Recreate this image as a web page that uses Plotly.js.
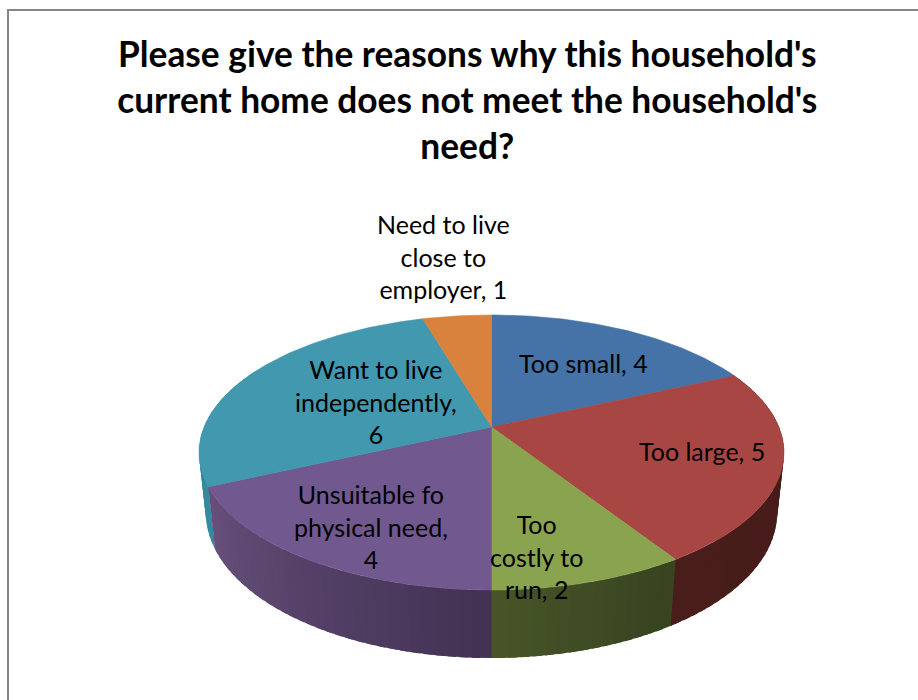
<!DOCTYPE html>
<html>
<head>
<meta charset="utf-8">
<script src="https://cdn.plot.ly/plotly-3.0.1.min.js"></script>
<style>html,body{margin:0;padding:0;background:#fff}#chart{width:918px;height:700px}</style>
</head>
<body>
<div id="chart"></div>
<script>
// Survey responses, clockwise from twelve o'clock
const reasons = ["Too small", "Too large", "Too costly to run", "Unsuitable fo physical need", "Want to live independently", "Need to live close to employer"];
const counts = [4, 5, 2, 4, 6, 1];
const topColors = ["#4572A7", "#A84644", "#89A34E", "#71588F", "#4198AF", "#D8823D"];
// Wall colour at the start and at the end of each slice's arc
const wallStart = ["#2f4d72", "#451b19", "#384320", "#433254", "#348a9e", "#9a5c2a"];
const wallEnd = ["#2f4d72", "#481d1a", "#475628", "#68517d", "#2f7d90", "#9a5c2a"];
const labelLines = [
  ["Too small, 4"],
  ["Too large, 5"],
  ["Too", "costly to", "run, 2"],
  ["Unsuitable fo", "physical need,", "4"],
  ["Want to live", "independently,", "6"],
  ["Need to live", "close to", "employer, 1"]
];
const labelAnchors = [[583, 363], [702, 451], [536, 556], [371, 526], [376, 401], [443, 256]];
const titleLines = ["Please give the reasons why this household's", "current home does not meet the household's", "need?"];

// Perspective camera for the tilted disc: u runs right, v towards the viewer, z down the wall
const cam = {cx: 491.5, cy: 427, a: 287.4, b: 132.8, depth: 60.7, k: 0.1855, e: 0.023};
function project(theta, radius, z) {
  const u = radius * Math.sin(theta), v = -radius * Math.cos(theta);
  const w = 1 - cam.k * v + cam.e * z;
  return [cam.cx + cam.a * u / w, cam.cy + (cam.b * v + cam.depth * z) / w];
}
function hexToRgb(h) {
  return [1, 3, 5].map(i => parseInt(h.slice(i, i + 2), 16));
}
function mix(c0, c1, t) {
  const a = hexToRgb(c0), b = hexToRgb(c1);
  return "rgb(" + a.map((v, i) => Math.round(v + (b[i] - v) * t)).join(",") + ")";
}
function poly(points, color, name, edgeWidth) {
  return {
    type: "scatter", mode: "lines", fill: "toself", fillcolor: color,
    x: points.map(p => p[0]), y: points.map(p => p[1]),
    line: {color: color, width: edgeWidth}, name: name, hoverinfo: "name", showlegend: false
  };
}

const total = counts.reduce((s, c) => s + c, 0);
const edges = [0];
counts.forEach(c => edges.push(edges[edges.length - 1] + c / total * 2 * Math.PI));

const walls = [], tops = [];
counts.forEach((c, i) => {
  const t0 = edges[i], t1 = edges[i + 1];
  const strips = Math.max(2, Math.round(c * 8));
  const step = (t1 - t0) / strips;
  for (let s = 0; s < strips; s++) {
    // Each strip runs a little under both neighbours so no hairlines show between them
    const a0 = t0 + step * s - 0.004;
    const a1 = Math.min(t1, t0 + step * (s + 1.6));
    // Only the near half of the wall ever shows
    if (Math.cos(t0 + step * (s + 0.5)) > 0.45) continue;
    const quad = [];
    for (let q = 0; q <= 4; q++) quad.push(project(a0 + (a1 - a0) * q / 4, 1, 0));
    for (let q = 4; q >= 0; q--) quad.push(project(a0 + (a1 - a0) * q / 4, 1, 1));
    quad.push(quad[0]);
    walls.push(poly(quad, mix(wallStart[i], wallEnd[i], (s + 0.5) / strips), reasons[i], 0));
  }
  const face = [project(0, 0, 0)];
  const n = Math.max(12, c * 16);
  for (let q = 0; q <= n; q++) face.push(project(t0 + (t1 - t0) * q / n, 1, 0));
  face.push(project(0, 0, 0));
  tops.push(poly(face, topColors[i], reasons[i], 0.6));
});
// Later strips are painted first so that each one's overlap stays hidden
walls.reverse();

const labelFont = {family: "Lato, 'Open Sans', sans-serif", size: 25, color: "#000"};
const annotations = [];
labelLines.forEach((lines, i) => {
  annotations.push({
    x: labelAnchors[i][0], y: labelAnchors[i][1], xref: "x", yref: "y",
    text: lines.join("<br>"), showarrow: false, font: labelFont,
    xanchor: "center", yanchor: "middle", align: "center"
  });
});

const layout = {
  width: 918, height: 700,
  margin: {l: 0, r: 0, t: 0, b: 0},
  paper_bgcolor: "#fff", plot_bgcolor: "#fff",
  showlegend: false,
  title: {
    text: "<b>" + titleLines.join("<br>") + "</b>",
    font: {family: "Lato, 'Open Sans', sans-serif", size: 35.3, color: "#000"},
    x: 0.509, xanchor: "center", y: 0.904, yanchor: "middle"
  },
  xaxis: {range: [0, 918], visible: false, fixedrange: true},
  yaxis: {range: [700, 0], visible: false, fixedrange: true},
  annotations: annotations,
  shapes: [{
    type: "path", xref: "x", yref: "y",
    path: "M 8 700 L 8 10 L 918 10",
    line: {color: "#868686", width: 2}
  }]
};

Plotly.newPlot("chart", walls.concat(tops), layout, {displayModeBar: false, staticPlot: true});
</script>
</body>
</html>
